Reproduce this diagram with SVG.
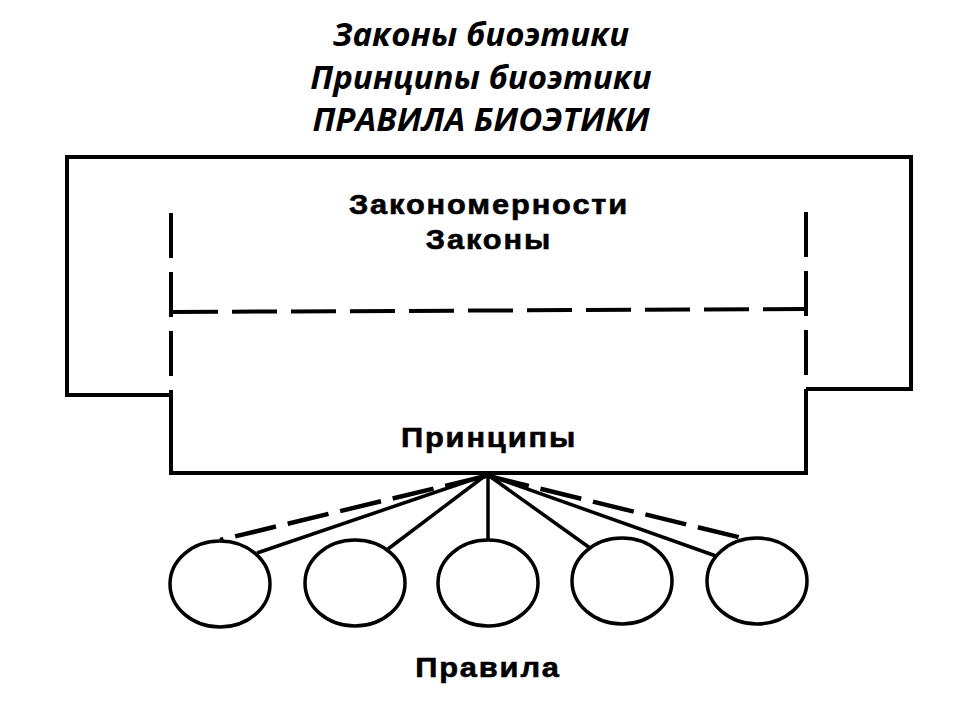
<svg xmlns="http://www.w3.org/2000/svg" width="960" height="720" viewBox="0 0 960 720">
<style>
.ln{fill:none;stroke:#000;stroke-width:4;stroke-linecap:butt;stroke-linejoin:miter}
.ds{fill:none;stroke:#000;stroke-width:4;stroke-dasharray:45 14}
.th{fill:none;stroke:#000;stroke-width:3.5}
.fd{fill:none;stroke:#000;stroke-width:4.5;stroke-dasharray:42 12}
.title{font-family:"Open Sans","Liberation Sans",sans-serif;font-style:italic;font-weight:bold;font-size:33px;text-anchor:middle;fill:#000}
.lbl{font-family:"Liberation Sans",Arial,sans-serif;font-weight:bold;font-size:28px;text-anchor:middle;fill:#000;stroke:#000;stroke-width:0.6;letter-spacing:1.7px}
</style>
<rect width="960" height="720" fill="#fff"/>
<g id="title">
<text class="title" x="481" y="46">Законы биоэтики</text>
<text class="title" x="481" y="89">Принципы биоэтики</text>
<text class="title" x="481" y="131">ПРАВИЛА БИОЭТИКИ</text>
</g>
<g id="laws">
<path class="ln" d="M171,395 H67 V157 H911 V389 H806"/>
<path class="ds" d="M171,213 V398"/>
<path class="ds" d="M806,212 V398"/>
<path class="ds" d="M173,312 L804,309"/>
<text class="lbl" transform="translate(489,214) scale(1.1,1)">Закономерности</text>
<text class="lbl" transform="translate(489,249) scale(1.1,1)">Законы</text>
</g>
<g id="principles">
<path class="ln" d="M171,395 V473 H806 V389"/>
<text class="lbl" transform="translate(489,447) scale(1.1,1)">Принципы</text>
</g>
<g id="connectors">
<path class="th" d="M486,475 L257,553"/>
<path class="th" d="M486,475 L388,549"/>
<path class="th" d="M488,475 V540"/>
<path class="th" d="M488,475 L590,548"/>
<path class="th" d="M488,475 L716,556"/>
<path class="fd" d="M486,476 L220,540"/>
<path class="fd" d="M488,476 L742,538"/>
</g>
<g id="rules">
<ellipse class="th" cx="220" cy="584" rx="50" ry="43"/>
<ellipse class="th" cx="355" cy="583" rx="50" ry="43"/>
<ellipse class="th" cx="488" cy="583" rx="50" ry="43"/>
<ellipse class="th" cx="622" cy="581" rx="50" ry="43"/>
<ellipse class="th" cx="757" cy="581" rx="50" ry="43"/>
<text class="lbl" transform="translate(488,677) scale(1.1,1)">Правила</text>
</g>
</svg>
